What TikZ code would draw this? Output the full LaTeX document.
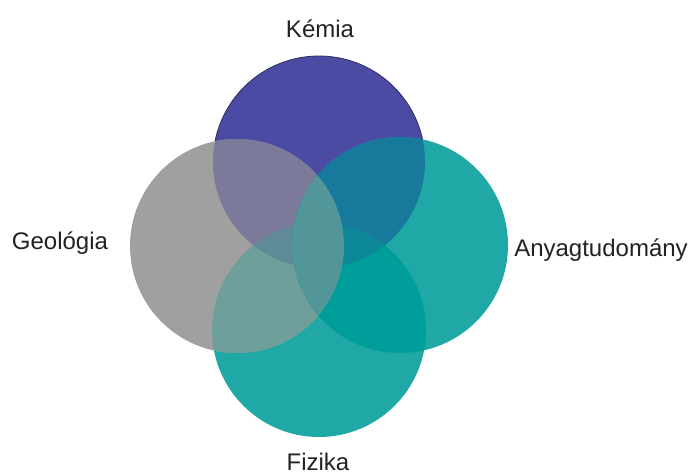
\documentclass[tikz,border=0pt]{standalone}
\usepackage{fontspec}
\setmainfont{Liberation Sans}
\definecolor{cB}{HTML}{4B4BA3}
\definecolor{cR}{HTML}{1FA8A5}
\definecolor{cF}{HTML}{1FA8A5}
\definecolor{cG}{HTML}{A0A0A0}
\definecolor{cBG}{HTML}{7B7A9B}
\definecolor{cBR}{HTML}{177A9D}
\definecolor{cGF}{HTML}{6F9F9A}
\definecolor{cRF}{HTML}{009E9A}
\definecolor{cBFG}{HTML}{5F8B99}
\definecolor{cBFR}{HTML}{0C8898}
\definecolor{cGR}{HTML}{52969A}
\definecolor{txt}{HTML}{222222}
\tikzset{lbl/.style={font=\fontsize{24}{28}\selectfont, text=txt, anchor=base, inner sep=0pt}}
\def\cBpath{(319,313) circle (106)}
\def\cRpath{(400,230) circle (108)}
\def\cFpath{(319,145) circle (107)}
\def\cGpath{(237,229) circle (107)}
\begin{document}
\begin{tikzpicture}[x=1pt,y=1pt]
\useasboundingbox (0,0) rectangle (692,475);
\fill[white] (0,0) rectangle (692,475);
% base circles
\fill[cB, draw=cB!60!black, line width=0.8pt] \cBpath;
\fill[cR] \cRpath;
\fill[cF] \cFpath;
\fill[cG] \cGpath;
% pairwise overlaps
\begin{scope}\clip \cBpath; \fill[cBG] \cGpath; \end{scope}
\begin{scope}\clip \cBpath; \fill[cBR] \cRpath; \end{scope}
\begin{scope}\clip \cGpath; \fill[cGF] \cFpath; \end{scope}
\begin{scope}\clip \cRpath; \fill[cRF] \cFpath; \end{scope}
% triple overlaps
\begin{scope}\clip \cBpath; \clip \cFpath; \fill[cBFG] \cGpath; \end{scope}
\begin{scope}\clip \cBpath; \clip \cFpath; \fill[cBFR] \cRpath; \end{scope}
% central lens
\begin{scope}\clip \cGpath; \fill[cGR] \cRpath; \end{scope}
% labels
\node[lbl] (kemia) at (320,437) {Kémia};
\node[lbl] (geologia) at (60,226) {Geológia};
\node[lbl] (anyag) at (601,219) {Anyagtudomány};
\node[lbl] (fizika) at (318,5) {Fizika};
\end{tikzpicture}
\end{document}
